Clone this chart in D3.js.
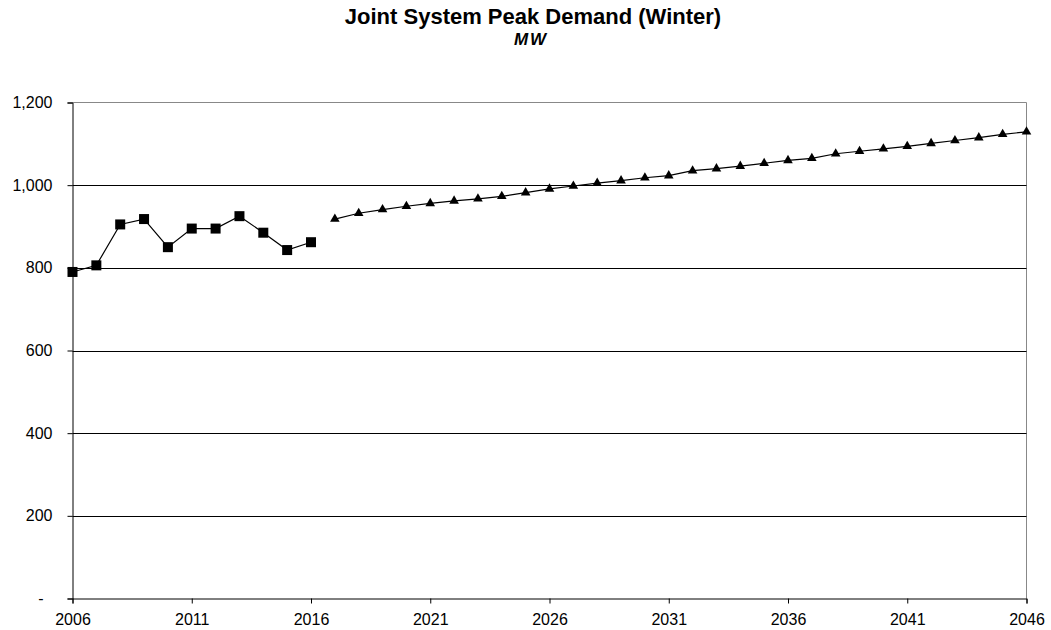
<!DOCTYPE html>
<html>
<head>
<meta charset="utf-8">
<script src="https://cdn.jsdelivr.net/npm/d3@7"></script>
<style>
  body { margin: 0; background: #fff; }
  svg { display: block; font-family: "Liberation Sans", Arial, sans-serif; }
</style>
</head>
<body>
<svg id="chart" width="1051" height="630"></svg>
<script>
// Historical winter peak demand (MW)
const histYears = [2006, 2007, 2008, 2009, 2010, 2011, 2012, 2013, 2014, 2015, 2016];
const histValues = [790, 806, 905, 918, 850, 895, 895, 925, 885, 843, 862];

// Forecast winter peak demand (MW)
const fcstYears = [2017, 2018, 2019, 2020, 2021, 2022, 2023, 2024, 2025, 2026,
  2027, 2028, 2029, 2030, 2031, 2032, 2033, 2034, 2035, 2036,
  2037, 2038, 2039, 2040, 2041, 2042, 2043, 2044, 2045, 2046];
const fcstValues = [918, 932, 941, 949, 956, 962, 967, 973, 982, 991,
  998, 1005, 1011, 1018, 1023, 1035, 1040, 1046, 1053, 1060,
  1065, 1076, 1082, 1088, 1094, 1101, 1108, 1115, 1123, 1129];

const xTicks = [2006, 2011, 2016, 2021, 2026, 2031, 2036, 2041, 2046];
const yTicks = [0, 200, 400, 600, 800, 1000, 1200];

const svg = d3.select("#chart");
const plotL = 72.5, plotR = 1026.5, plotT = 102.5, plotB = 598.5;

const x = d3.scaleLinear().domain([2006, 2046]).range([plotL, plotR]);
const y = d3.scaleLinear().domain([0, 1200]).range([plotB, plotT]);

// Titles
svg.append("text").attr("x", 533).attr("y", 24).attr("text-anchor", "middle")
  .attr("font-size", 22).attr("font-weight", "bold").text("Joint System Peak Demand (Winter)");
svg.append("text").attr("x", 531).attr("y", 45).attr("text-anchor", "middle")
  .attr("font-size", 17).attr("font-weight", "bold").attr("font-style", "italic")
  .attr("letter-spacing", 2).text("MW");

// Plot frame (top and right edges)
svg.append("path")
  .attr("d", `M${plotL},${plotT}H${plotR}V${plotB}`)
  .attr("fill", "none").attr("stroke", "#888").attr("stroke-width", 1);

// Horizontal gridlines
svg.append("g").selectAll("line")
  .data(yTicks.filter(v => v > 0 && v < 1200))
  .join("line")
  .attr("x1", plotL).attr("x2", plotR)
  .attr("y1", d => Math.round(y(d)) + 0.5).attr("y2", d => Math.round(y(d)) + 0.5)
  .attr("stroke", "#000").attr("stroke-width", 1);

// Y axis
const yAxis = d3.axisLeft(y).tickValues(yTicks).tickSize(5).tickPadding(15)
  .tickFormat(d => d === 0 ? "-" : d3.format(",")(d));
const gy = svg.append("g").attr("transform", `translate(${plotL},0)`).call(yAxis);
gy.select(".domain").attr("stroke", "#000");
gy.selectAll(".tick line").attr("stroke", "#000");
gy.selectAll(".tick text").attr("font-size", 16).attr("fill", "#000")
  .attr("font-family", "Liberation Sans, Arial, sans-serif");
gy.selectAll(".tick").filter(d => d === 0).select("text").attr("dx", -9);

// X axis
const xAxis = d3.axisBottom(x).tickValues(xTicks).tickSize(5).tickPadding(10)
  .tickFormat(d3.format("d"));
const gx = svg.append("g").attr("transform", `translate(0,${plotB})`).call(xAxis);
gx.select(".domain").attr("stroke", "#000");
gx.selectAll(".tick line").attr("stroke", "#000");
gx.selectAll(".tick text").attr("font-size", 16).attr("fill", "#000")
  .attr("font-family", "Liberation Sans, Arial, sans-serif");

const line = d3.line().x(d => x(d[0])).y(d => y(d[1]));
const hist = histYears.map((yr, i) => [yr, histValues[i]]);
const fcst = fcstYears.map((yr, i) => [yr, fcstValues[i]]);

svg.append("path").datum(hist).attr("d", line)
  .attr("fill", "none").attr("stroke", "#000").attr("stroke-width", 1.2);
svg.append("path").datum(fcst).attr("d", line)
  .attr("fill", "none").attr("stroke", "#000").attr("stroke-width", 1.2);

// Square markers
svg.append("g").selectAll("rect").data(hist).join("rect")
  .attr("x", d => x(d[0]) - 5).attr("y", d => y(d[1]) - 5)
  .attr("width", 10).attr("height", 10).attr("fill", "#000");

// Triangle markers
const tri = d3.symbol().type(d3.symbolTriangle).size(40);
svg.append("g").selectAll("path").data(fcst).join("path")
  .attr("transform", d => `translate(${x(d[0])},${y(d[1])})`)
  .attr("d", tri).attr("fill", "#000");
</script>
</body>
</html>
